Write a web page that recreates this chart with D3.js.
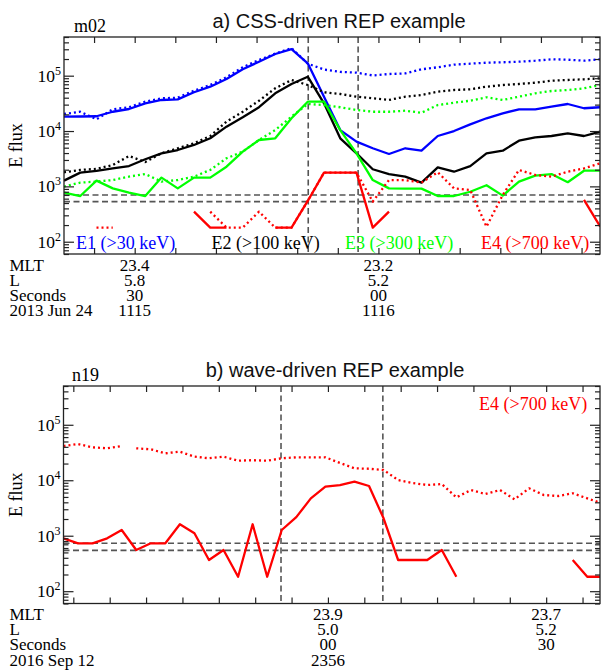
<!DOCTYPE html>
<html><head><meta charset="utf-8">
<script src="https://cdn.jsdelivr.net/npm/d3@7"></script>
<style>body{margin:0;background:#fff}svg{display:block}</style>
</head><body><svg id="c" width="603" height="670"></svg>
<script>
// ---------- DATA ----------
// Panel a: seconds after 11:15:00 UT, 2-s cadence
const timesA = [21.3,23.3,25.3,27.3,29.3,31.3,33.3,35.3,37.3,39.3,41.3,43.3,45.3,47.3,49.3,51.3,53.3,55.3,57.3,59.3,61.3,63.3,65.3,67.3,69.3,71.3,73.3,75.3,77.3,79.3,81.3,83.3,85.3,87.3];
const e1SolidA = [18200,18300,18500,22300,25000,31700,36400,37400,50200,63300,87000,130400,178900,246600,303000,167500,41700,10400,6420,4880,3850,4880,4410,8130,10000,13200,17000,20900,24700,24700,27500,30800,25800,26900];
const e1DotA   = [20300,22300,16300,24700,26900,33900,39000,40000,53500,67900,93500,141900,192100,250000,315000,165000,129000,117000,113300,101000,107200,110000,130400,141900,158100,164800,171800,174600,178900,186600,197700,194500,186600,197700];
const e2SolidA = [1270,1770,1900,2120,2330,3090,3960,4540,5600,7390,12000,17700,26900,48100,70800,95900,31700,7390,3960,2040,1670,1500,1170,2210,1840,2330,3960,4410,6690,7700,8130,9100,8130,9730];
const e2DotA   = [1800,1980,2070,2430,3540,2750,3960,4880,6000,8130,14800,22300,35300,59200,83600,67900,50200,46700,41700,39000,36400,41700,44800,51400,55100,56800,63300,67900,70800,74700,81200,83600,86100,89800];
const e3SolidA = [770,670,1270,920,770,670,1440,920,1440,1440,2270,4240,6890,7390,17000,33900,33900,10400,3960,1300,920,910,910,670,670,800,1050,680,1220,1560,1670,1190,1920,1920];
const e3DotA   = [990,1170,1220,1300,1500,1670,1220,1300,1500,1980,3220,4240,6890,10400,18200,30800,29500,26900,24000,22300,22300,23300,21400,29500,32500,35300,40700,36400,41700,48100,52900,55100,59200,67900];
const e4SolidA = [null,null,null,null,null,null,null,null,349,180,180,null,null,180,180,545,1770,1770,1770,180,349,null,null,null,null,null,null,null,null,null,null,null,568,187];
const e4DotA   = [null,null,180,180,null,null,null,null,null,349,180,180,349,180,180,545,1770,1770,1770,530,1300,1300,1170,1800,920,860,187,700,1980,1610,1500,1840,2120,2610];
const thresholdsA = [700, 530];
const markersA = [51.36, 57.5];
const xTicksA = [25,30,35,40,45,50,55,60,65,70,75,80,85];
const infoLabelsA = ["MLT","L","Seconds","2013 Jun 24"];
const infoTimesA = [30, 60];
const infoValsA = [["23.4","5.8","30","1115"],["23.2","5.2","00","1116"]];
const legendA = [["E1 (>30 keV)","#0000ff"],["E2 (>100 keV)","#000000"],["E3 (>300 keV)","#00ff00"],["E4 (>700 keV)","#ff0000"]];

// Panel b: seconds after 23:55:00 UT, 2-s cadence
const timesB = [23.65,25.65,27.65,29.65,31.65,33.65,35.65,37.65,39.65,41.65,43.65,45.65,47.65,49.65,51.65,53.65,55.65,57.65,59.65,61.65,63.65,65.65,67.65,69.65,71.65,73.65,75.65,77.65,79.65,81.65,83.65,85.65,87.65,89.65,91.65,93.65,95.65,97.65];
const e4SolidB = [898,730,730,898,1268,553,730,730,1607,1105,365,553,182,1607,182,1268,2160,4720,7650,8200,9410,7870,2060,365,365,365,553,182,null,null,null,null,null,null,null,365,182,182];
const e4DotB   = [41400,45000,39200,37700,41400,37700,36100,30600,32700,26600,24900,26600,22500,23000,22500,24900,25900,25900,25900,20500,16400,16100,15300,10100,8910,8200,8550,4920,6670,5650,6670,4530,7160,5420,5200,5820,4720,3840];
const e4DotBreaksB = [4];
const thresholdsB = [730, 545];
const markersB = [53.55, 67.55];
const xTicksB = [25,30,35,40,45,50,55,60,65,70,75,80,85,90,95];
const infoLabelsB = ["MLT","L","Seconds","2016 Sep 12"];
const infoTimesB = [60, 90];
const infoValsB = [["23.9","5.0","00","2356"],["23.7","5.2","30",""]];

const yDomain = [60, 5e5];

// ---------- DRAW ----------
const svg = d3.select("#c");
const SERIF = "'Liberation Serif','Times New Roman',Times,serif";
const SANS = "'Liberation Sans',Arial,Helvetica,sans-serif";
const BLUE="#0000ff", BLACK="#000000", GREEN="#00ff00", RED="#ff0000";

function panel(cfg){
  const g = svg.append("g");
  const x = d3.scaleLinear().domain(cfg.xDomain).range([cfg.L, cfg.R]);
  const y = d3.scaleLog().domain(yDomain).range([cfg.B, cfg.T]);
  const clipId = "clip"+cfg.id;
  svg.append("defs").append("clipPath").attr("id",clipId)
    .append("rect").attr("x",cfg.L).attr("y",cfg.T).attr("width",cfg.R-cfg.L).attr("height",cfg.B-cfg.T);
  const plot = g.append("g").attr("clip-path",`url(#${clipId})`);

  cfg.thresholds.forEach(v=>{
    plot.append("line").attr("x1",cfg.L).attr("x2",cfg.R).attr("y1",y(v)).attr("y2",y(v))
      .attr("stroke","#555").attr("stroke-width",1.6).attr("stroke-dasharray","6,3.5");
  });
  cfg.markers.forEach(t=>{
    plot.append("line").attr("x1",x(t)).attr("x2",x(t)).attr("y1",cfg.T).attr("y2",cfg.B)
      .attr("stroke","#555").attr("stroke-width",1.6).attr("stroke-dasharray","6,3.5");
  });

  const line = d3.line().defined(d=>d.v!=null).x(d=>x(d.t)).y(d=>y(d.v));
  cfg.series.forEach(s=>{
    let pts = cfg.times.map((t,i)=>({t, v:s.vals[i]}));
    if (s.breaks){
      const out=[];
      pts.forEach((p,i)=>{ out.push(p); if (s.breaks.includes(i)) out.push({t:(p.t+cfg.times[i+1])/2, v:null}); });
      pts = out;
    }
    plot.append("path").datum(pts).attr("d",line).attr("fill","none")
      .attr("stroke",s.color).attr("stroke-width",2.3)
      .attr("stroke-linejoin","round")
      .attr("stroke-dasharray", s.dotted ? "2,3" : null);
  });

  const all = y.ticks().filter(v=>v>=yDomain[0]&&v<=yDomain[1]);
  const isMajor = v=>Math.abs(Math.log10(v)-Math.round(Math.log10(v)))<1e-9;
  const major = all.filter(isMajor), minor = all.filter(v=>!isMajor(v));
  const ax = g.append("g").style("color","#222");
  const addAxis = (gen, tx, ty)=> ax.append("g").attr("transform",`translate(${tx},${ty})`).call(gen).call(a=>a.select(".domain").remove());
  addAxis(d3.axisLeft(y).tickValues(major).tickSizeInner(-10).tickSizeOuter(0).tickFormat(""), cfg.L, 0);
  addAxis(d3.axisLeft(y).tickValues(minor).tickSizeInner(-5).tickSizeOuter(0).tickFormat(""), cfg.L, 0);
  addAxis(d3.axisRight(y).tickValues(major).tickSizeInner(-10).tickSizeOuter(0).tickFormat(""), cfg.R, 0);
  addAxis(d3.axisRight(y).tickValues(minor).tickSizeInner(-5).tickSizeOuter(0).tickFormat(""), cfg.R, 0);
  addAxis(d3.axisBottom(x).tickValues(cfg.xTicks).tickSizeInner(-6).tickSizeOuter(0).tickFormat(""), 0, cfg.B);
  addAxis(d3.axisTop(x).tickValues(cfg.xTicks).tickSizeInner(-6).tickSizeOuter(0).tickFormat(""), 0, cfg.T);
  ax.selectAll("line").attr("stroke-width",1.2);
  g.append("rect").attr("x",cfg.L).attr("y",cfg.T).attr("width",cfg.R-cfg.L).attr("height",cfg.B-cfg.T)
    .attr("fill","none").attr("stroke","#222").attr("stroke-width",1.3);

  major.forEach(v=>{
    const t = g.append("text").attr("x",cfg.L-3).attr("y",y(v)+6).attr("text-anchor","end")
      .attr("font-family",SERIF).attr("font-size",17.5).attr("fill","#000");
    t.append("tspan").text("10");
    t.append("tspan").attr("dy",-7).attr("font-size",12).text(String(Math.round(Math.log10(v))));
  });
  g.append("text").attr("transform",`translate(22,${(cfg.T+cfg.B)/2}) rotate(-90)`)
    .attr("text-anchor","middle").attr("font-family",SERIF).attr("font-size",18).text("E flux");

  g.append("text").attr("x",cfg.titleX).attr("y",cfg.T-9).attr("text-anchor","middle")
    .attr("font-family",SANS).attr("font-size",20).attr("fill","#111").text(cfg.title);
  g.append("text").attr("x",cfg.satX).attr("y",cfg.T-5).attr("font-family",SERIF).attr("font-size",18).text(cfg.sat);

  cfg.legend.forEach(l=>{
    g.append("text").attr("x",l.x).attr("y",l.y).attr("font-family",SERIF).attr("font-size",18)
      .attr("fill",l.color).text(l.text);
  });

  cfg.infoLabels.forEach((lab,k)=>{
    const yy = cfg.B + 16.5 + 15.2*k;
    g.append("text").attr("x",9.5).attr("y",yy).attr("font-family",SERIF).attr("font-size",17).text(lab);
    cfg.infoTimes.forEach((t,c)=>{
      g.append("text").attr("x",x(t)).attr("y",yy).attr("text-anchor","middle")
        .attr("font-family",SERIF).attr("font-size",17).text(cfg.infoVals[c][k]);
    });
  });
}

panel({
  id:"A", L:64, R:600, T:37, B:254, xDomain:[21.3,87.27], times:timesA, xTicks:xTicksA,
  thresholds:thresholdsA, markers:markersA,
  series:[
    {vals:e1SolidA,color:BLUE},{vals:e1DotA,color:BLUE,dotted:true},
    {vals:e2SolidA,color:BLACK},{vals:e2DotA,color:BLACK,dotted:true},
    {vals:e3SolidA,color:GREEN},{vals:e3DotA,color:GREEN,dotted:true},
    {vals:e4SolidA,color:RED},{vals:e4DotA,color:RED,dotted:true}
  ],
  title:"a) CSS-driven REP example", titleX:339, sat:"m02", satX:74,
  legend:[{text:legendA[0][0],color:legendA[0][1],x:76,y:249},{text:legendA[1][0],color:legendA[1][1],x:211.5,y:249},
          {text:legendA[2][0],color:legendA[2][1],x:345,y:249},{text:legendA[3][0],color:legendA[3][1],x:481,y:249}],
  infoLabels:infoLabelsA, infoTimes:infoTimesA, infoVals:infoValsA
});
panel({
  id:"B", L:63.5, R:600, T:386, B:603.5, xDomain:[23.65,97.4], times:timesB, xTicks:xTicksB,
  thresholds:thresholdsB, markers:markersB,
  series:[{vals:e4SolidB,color:RED},{vals:e4DotB,color:RED,dotted:true,breaks:e4DotBreaksB}],
  title:"b) wave-driven REP example", titleX:335, sat:"n19", satX:72,
  legend:[{text:legendA[3][0],color:legendA[3][1],x:479,y:410}],
  infoLabels:infoLabelsB, infoTimes:infoTimesB, infoVals:infoValsB
});
</script></body></html>
